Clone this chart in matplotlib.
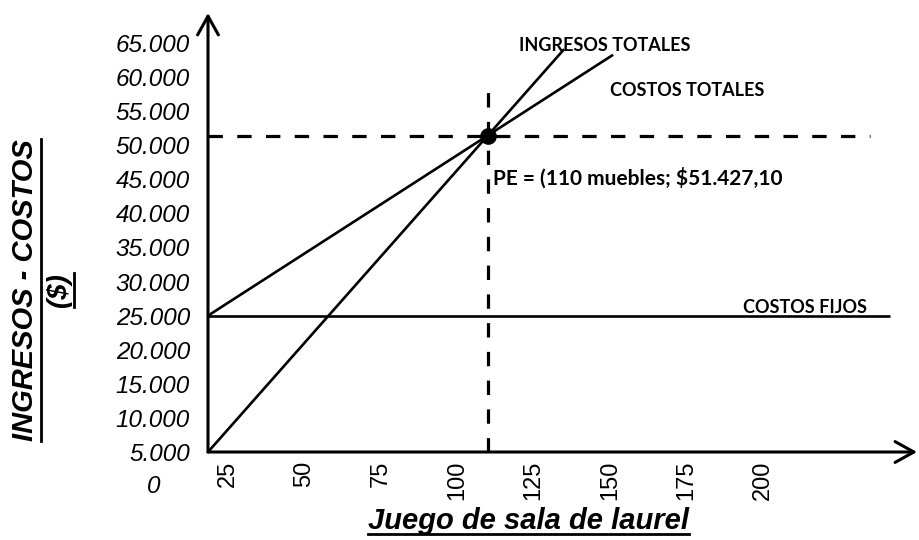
import matplotlib
matplotlib.use("Agg")
import matplotlib.pyplot as plt
from matplotlib.lines import Line2D
from matplotlib.transforms import blended_transform_factory

# --- data -------------------------------------------------------------
x_start = 18.5                      # left end of the units axis
x_end = 250.4                       # right end of the units axis
x_ticks = [25, 50, 75, 100, 125, 150, 175, 200]
x_tick_labels = ["25", "50", "75", "100", "125", "150", "175", "200"]

y_ticks = [5000, 10000, 15000, 20000, 25000, 30000, 35000, 40000,
           45000, 50000, 55000, 60000, 65000]
y_tick_labels = ["5.000", "10.000", "15.000", "20.000", "25.000", "30.000",
                 "35.000", "40.000", "45.000", "50.000", "55.000", "60.000",
                 "65.000"]

ingresos_units = [18.5, 135.0]
ingresos_values = [5000, 64100]

costos_units = [18.5, 151.0]
costos_values = [25000, 63270]

fijos_units = [18.5, 241.6]
fijos_values = [25000, 25000]

pe_units = 110
pe_value = 51427.10
pe_label = "PE = (110 muebles; $51.427,10"

# --- figure -----------------------------------------------------------
W, H = 920, 540
fig = plt.figure(figsize=(W / 100, H / 100), dpi=100)
ax = fig.add_axes([208 / W, (H - 452) / H, (917 - 208) / W, (452 - 13) / H])
ax.set_xlim(x_start, x_end)
ax.set_ylim(5000, 69400)
for s in ax.spines.values():
    s.set_visible(False)

# axes drawn as arrows
arrow_kw = dict(arrowstyle="->,head_length=0.45,head_width=0.25",
                lw=2.2, color="black", mutation_scale=30,
                shrinkA=0, shrinkB=0)
ax.annotate("", xy=(0, 1), xytext=(0, 0), xycoords="axes fraction",
            arrowprops=arrow_kw, annotation_clip=False)
ax.annotate("", xy=(1, 0), xytext=(0, 0), xycoords="axes fraction",
            arrowprops=arrow_kw, annotation_clip=False)

# cost / revenue lines
line_kw = dict(color="black", lw=1.9, solid_capstyle="butt", clip_on=False)
ax.plot(ingresos_units, ingresos_values, **line_kw)
ax.plot(costos_units, costos_values, **line_kw)
ax.plot(fijos_units, fijos_values, **line_kw)

# break-even guides
dash = (0, (4.5, 4.5))
ax.plot([x_start, 235], [pe_value, pe_value], ls=dash, lw=2.3, color="black")
ax.plot([pe_units, pe_units], [5000, 58400], ls=dash, lw=2.3, color="black")
ax.plot([pe_units], [pe_value], "o", ms=11, color="black", zorder=5)

# ticks
arial = "Liberation Sans"
ax.set_yticks(y_ticks)
ax.set_yticklabels(y_tick_labels, fontstyle="italic", fontsize=17.5,
                   family=arial)
ax.tick_params(axis="y", length=0, pad=13)
ax.set_xticks(x_ticks)
ax.set_xticklabels(x_tick_labels, rotation=90, fontsize=17, family=arial)
ax.tick_params(axis="x", length=0, pad=6)

ytrans = blended_transform_factory(ax.transAxes, ax.transData)
ax.text(-48 / 709, 0, "0", transform=ytrans, ha="right", va="center",
        fontstyle="italic", fontsize=17.5, family=arial, clip_on=False)

# line annotations
lab_kw = dict(family="Lato", fontweight="bold", fontsize=13, color="black")
ax.text(148.3, 64700, "INGRESOS TOTALES", ha="center", va="center", **lab_kw)
ax.text(175.1, 58100, "COSTOS TOTALES", ha="center", va="center", **lab_kw)
ax.text(213.7, 26125, "COSTOS FIJOS", ha="center", va="center", **lab_kw)
ax.text(pe_units + 1.7, 45200, pe_label, ha="left", va="center",
        family="Lato", fontweight="bold", fontsize=15)

# axis titles, underlined
def px(x, y):
    return x / W, 1 - y / H

title_kw = dict(family=arial, fontweight="bold", fontstyle="italic",
                color="black")
xl = fig.text(*px(529, 521), "Juego de sala de laurel", ha="center",
              va="center", fontsize=21, **title_kw)
yl1 = fig.text(*px(25, 290), "INGRESOS - COSTOS", ha="center", va="center",
               rotation=90, fontsize=21, **title_kw)
yl2 = fig.text(*px(59, 290), "($)", ha="center", va="center",
               rotation=90, fontsize=20, **title_kw)

fig.canvas.draw()
r = fig.canvas.get_renderer()

def underline_h(t):
    bb = t.get_window_extent(r)
    y = (bb.y0 + 1) / H
    fig.add_artist(Line2D([bb.x0 / W, bb.x1 / W], [y, y], color="black",
                          lw=2.0, transform=fig.transFigure))

def underline_v(t):
    bb = t.get_window_extent(r)
    x = (bb.x1 + 2) / W
    fig.add_artist(Line2D([x, x], [bb.y0 / H, bb.y1 / H], color="black",
                          lw=2.0, transform=fig.transFigure))

underline_h(xl)
underline_v(yl1)
underline_v(yl2)

fig.savefig("out.png", dpi=100, facecolor="white")
